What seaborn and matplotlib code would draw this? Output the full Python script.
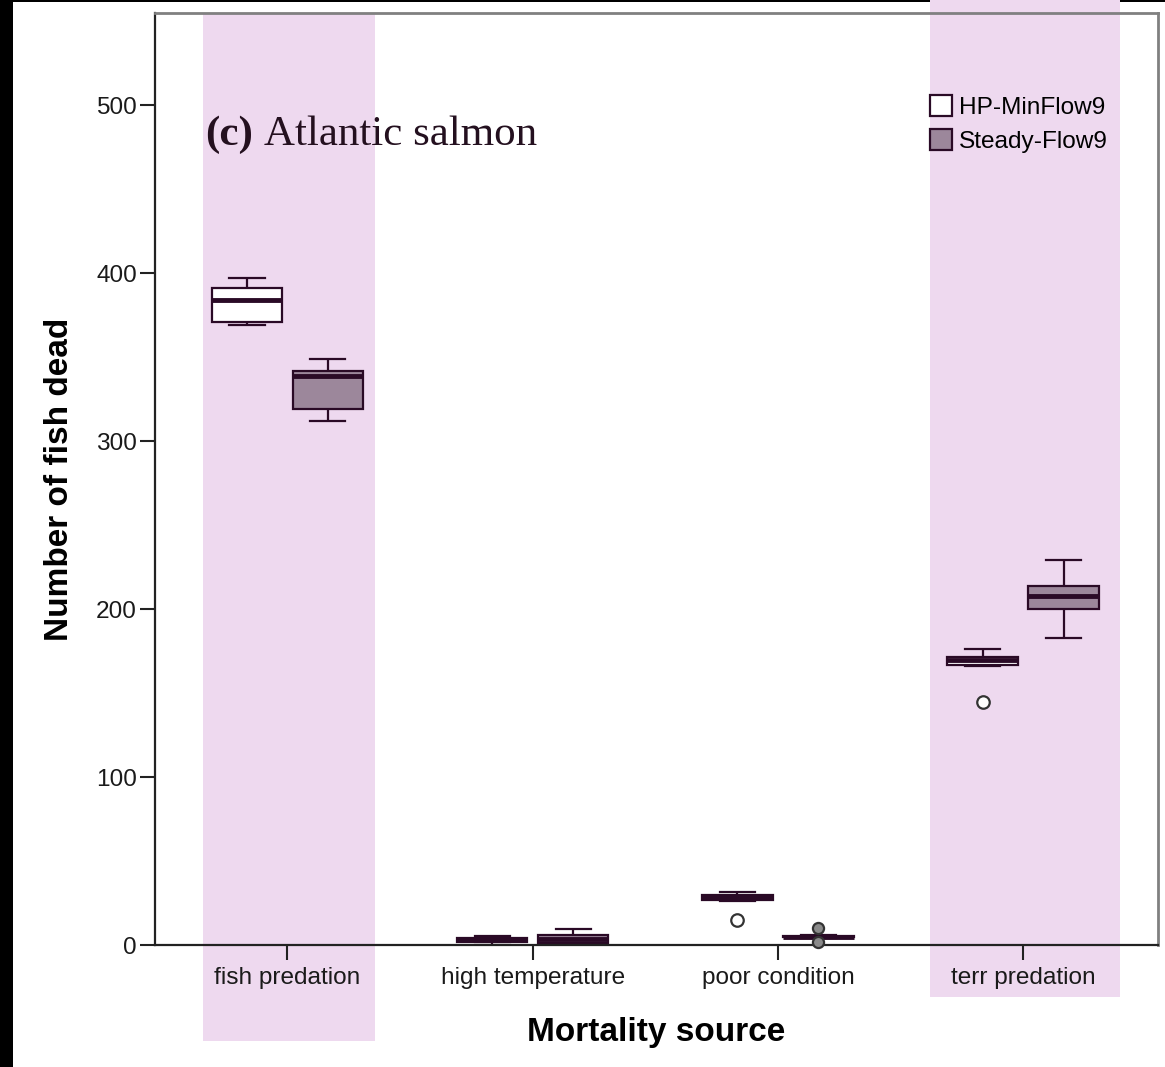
import numpy as np
import pandas as pd
import seaborn as sns
import matplotlib
matplotlib.use("Agg")
import matplotlib.pyplot as plt
from matplotlib.patches import Rectangle, Patch

# Mortality sources and the two flow scenarios
sources = ["fish predation", "high temperature", "poor condition", "terr predation"]
scenarios = ["HP-MinFlow9", "Steady-Flow9"]

# Fish dead per simulation run, by source, for each scenario
hp_runs = {
    "fish predation":   [369, 370, 371, 378, 384, 388, 391, 394, 397],
    "high temperature": [0, 1, 1.5, 2, 3, 4, 4.3, 5, 5.5],
    "poor condition":   [15, 26, 27, 28, 28.5, 29, 29.8, 30.5, 31.5],
    "terr predation":   [145, 166, 167, 168.5, 170, 171, 171.6, 174, 176],
}
steady_runs = {
    "fish predation":   [312, 316, 319, 330, 339, 340, 342, 345, 349],
    "high temperature": [0, 1, 1, 2, 3.6, 5, 6, 8, 9.3],
    "poor condition":   [2, 4, 4.5, 4.8, 5, 5.2, 5.6, 6, 10.3],
    "terr predation":   [183, 195, 200, 204, 208, 211, 214, 222, 229],
}

y_ticks = [0, 100, 200, 300, 400, 500]

rows = []
for scen, runs in zip(scenarios, [hp_runs, steady_runs]):
    for src in sources:
        for v in runs[src]:
            rows.append({"source": src, "scenario": scen, "dead": v})
df = pd.DataFrame(rows)

W, H = 1165, 1067
fig = plt.figure(figsize=(W / 100, H / 100), dpi=100, facecolor="white")

# dark edge strips around the sheet
fig.patches.append(Rectangle((0, 0), 13 / W, 1, transform=fig.transFigure,
                             facecolor="black", edgecolor="none", zorder=-3))
fig.patches.append(Rectangle((0, 1 - 2 / H), 1, 2 / H, transform=fig.transFigure,
                             facecolor="black", edgecolor="none", zorder=-3))

# highlight bands behind the predation categories
band = "#EED9EF"
fig.patches.append(Rectangle((203 / W, 1 - 1041 / H), 172 / W, (1041 - 13) / H,
                             transform=fig.transFigure, facecolor=band,
                             edgecolor="none", zorder=-2))
fig.patches.append(Rectangle((930 / W, 1 - 997 / H), 190 / W, 997 / H,
                             transform=fig.transFigure, facecolor=band,
                             edgecolor="none", zorder=-2))

ax = fig.add_axes([155 / W, 1 - 945 / H, (1158 - 155) / W, (945 - 13) / H])
ax.set_facecolor("none")

edge = "#2A0A26"
fill_steady = "#9C879B"
palette = {"HP-MinFlow9": "white", "Steady-Flow9": fill_steady}

sns.boxplot(data=df, x="source", y="dead", hue="scenario", order=sources,
            hue_order=scenarios, palette=palette, saturation=1, width=0.66,
            gap=0.13, linecolor=edge, linewidth=1.6, legend=False, ax=ax,
            medianprops={"linewidth": 3.5, "color": edge},
            flierprops={"marker": "o", "markersize": 9, "markeredgewidth": 1.6,
                        "markeredgecolor": "#333333", "markerfacecolor": "white"})

# outliers are drawn unclipped; the steady-flow ones are shaded grey
for line in ax.lines:
    if line.get_marker() == "o" and len(line.get_xdata()):
        line.set_clip_on(False)
        line.set_zorder(5)
        x0 = np.asarray(line.get_xdata(), dtype=float)[0]
        if x0 - np.round(x0) > 0:
            line.set_markerfacecolor("#8A8A8A")
            line.set_markersize(8)

ax.set_xlim(-0.54, 3.55)
ax.set_ylim(0, 555)
ax.set_yticks(y_ticks)
ax.set_yticklabels([str(t) for t in y_ticks])

for lab in ax.get_xticklabels() + ax.get_yticklabels():
    lab.set_fontfamily("Liberation Sans")
    lab.set_fontsize(17.6)
    lab.set_color("#1a1a1a")

ax.tick_params(axis="both", direction="out", length=11, width=1.5, color="#222222")
ax.tick_params(axis="x", pad=5)
ax.tick_params(axis="y", pad=2)

for side in ["left", "bottom"]:
    ax.spines[side].set_color("#222222")
    ax.spines[side].set_linewidth(1.6)
for side in ["top", "right"]:
    ax.spines[side].set_color("#808080")
    ax.spines[side].set_linewidth(2)

ax.set_xlabel("Mortality source", fontfamily="Liberation Sans", fontsize=24,
              fontweight="bold", labelpad=20)
ax.set_ylabel("Number of fish dead", fontfamily="Liberation Sans", fontsize=24,
              fontweight="bold", labelpad=15)

# panel caption
fig.text(205 / W, 1 - 145 / H, "(c)", fontfamily="Liberation Serif", fontsize=31,
         fontweight="bold", color="#24101f", va="baseline", ha="left")
fig.text(264 / W, 1 - 145 / H, "Atlantic salmon", fontfamily="Liberation Serif",
         fontsize=31, color="#24101f", va="baseline", ha="left")

handles = [Patch(facecolor=palette[s], edgecolor=edge, linewidth=1.6, label=s)
           for s in scenarios]
fig.legend(handles=handles, loc="upper left", bbox_to_anchor=(930 / W, 1 - 95 / H),
           frameon=False, borderpad=0, borderaxespad=0, handlelength=0.92,
           handleheight=0.92, handletextpad=0.27, labelspacing=0.42,
           prop={"family": "Liberation Sans", "size": 17.6})

fig.savefig("out.png", dpi=100, facecolor="white")
